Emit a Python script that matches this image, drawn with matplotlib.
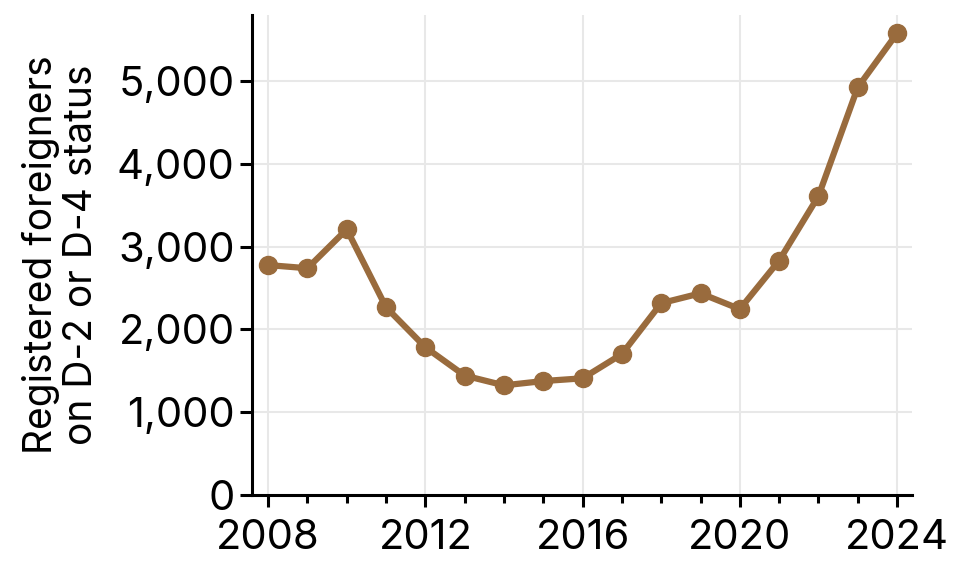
import matplotlib
matplotlib.use("Agg")
import matplotlib.pyplot as plt
from matplotlib.ticker import FuncFormatter, MultipleLocator

years = [2008, 2009, 2010, 2011, 2012, 2013, 2014, 2015, 2016, 2017,
         2018, 2019, 2020, 2021, 2022, 2023, 2024]
values = [2778, 2740, 3210, 2268, 1785, 1443, 1325, 1377, 1410, 1703,
          2318, 2437, 2246, 2832, 3611, 4925, 5578]
ylabel = "Registered foreigners\non D-2 or D-4 status"

plt.rcParams['font.family'] = ['Inter', 'DejaVu Sans']

fig = plt.figure(figsize=(9.62, 5.76), dpi=100)
ax = fig.add_axes([0.262, 0.1406, 0.686, 0.8334])

ax.plot(years, values, color='#996b3d', lw=4.5, marker='o', ms=13,
        solid_capstyle='round', zorder=3)

ax.set_xlim(2007.59, 2024.38)
ax.set_ylim(0, 5800)
ax.xaxis.set_major_locator(MultipleLocator(4))
ax.xaxis.set_minor_locator(MultipleLocator(1))
ax.yaxis.set_major_locator(MultipleLocator(1000))
ax.yaxis.set_major_formatter(FuncFormatter(lambda v, p: f"{int(v):,}"))

ax.grid(True, which='major', color='#e8e8e8', lw=1.5, zorder=0)
for s in ['top', 'right']:
    ax.spines[s].set_visible(False)
for s in ['left', 'bottom']:
    ax.spines[s].set_linewidth(2.2)
    ax.spines[s].set_color('black')

ax.tick_params(which='major', length=8.5, width=2.2, labelsize=30, pad=4, color='black')
ax.tick_params(which='minor', length=5.5, width=2.2, color='black')
ax.tick_params(axis='y', which='minor', left=False)
ax.tick_params(axis='x', which='major', pad=9)

ax.set_ylabel(ylabel, fontsize=28, linespacing=1.12, labelpad=12)

fig.savefig("out.png", dpi=100)
